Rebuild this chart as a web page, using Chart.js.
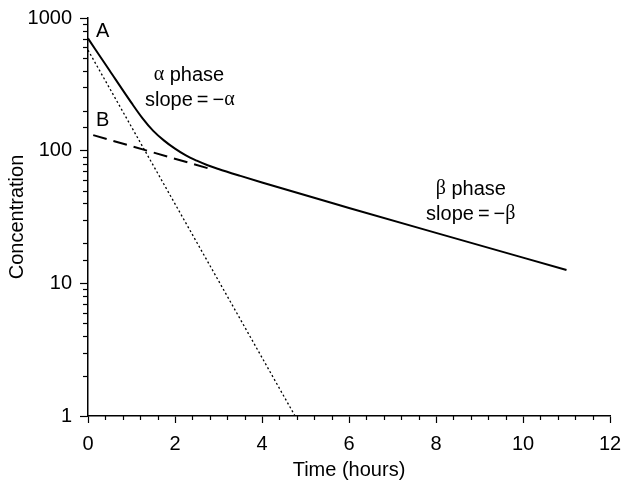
<!DOCTYPE html>
<html>
<head>
<meta charset="utf-8">
<script src="https://cdn.jsdelivr.net/npm/chart.js@4/dist/chart.umd.min.js"></script>
<style>
    body { margin: 0; background: #fff; }
    #wrap { width: 622px; height: 483px; }
</style>
</head>
<body>
<div id="wrap"><canvas id="two-compartment" width="622" height="483"></canvas></div>
<script>
// values
const curveTime = [0, 0.5, 1.0, 1.25, 1.5, 1.75, 2.0, 2.25, 2.5, 2.75, 3.0, 3.5, 4, 6, 8, 11];
const curveConc = [702, 400, 229, 176, 141, 119, 103.5, 92, 84, 77.6, 72.8, 64.6, 57.5, 37, 24, 12.6];

const betaLineTime = [0.12, 2.8];
const betaLineConc = [131, 73];

const alphaLineTime = [0, 4.76];
const alphaLineConc = [573, 1];

const yTickLabels = [1, 10, 100, 1000];
const xTickLabels = [0, 2, 4, 6, 8, 10, 12];

const SANS = "'Liberation Sans', Arial, sans-serif";
const SERIF = "'Liberation Serif', 'Times New Roman', serif";

// text annotations: [runs, time, concentration]
const notes = [
    [[['A', SANS]], 0.34, 797],
    [[['B', SANS]], 0.34, 170],
    [[['\u03B1', SERIF], [' phase', SANS]], 2.32, 371],
    [[['slope\u2009=\u2009\u2212', SANS], ['\u03B1', SERIF]], 2.34, 241],
    [[['\u03B2', SERIF], [' phase', SANS]], 8.8, 51.4],
    [[['slope\u2009=\u2009\u2212', SANS], ['\u03B2', SERIF]], 8.8, 33.3]
];

function toPoints(xs, ys) {
    return xs.map((x, i) => ({x: x, y: ys[i]}));
}

function isDecade(v) {
    return yTickLabels.indexOf(v) !== -1;
}

const extraMarks = {
    id: 'extraMarks',
    afterDraw(chart) {
        const ctx = chart.ctx;
        const xs = chart.scales.x;
        const ys = chart.scales.y;
        ctx.save();
        ctx.strokeStyle = '#000';
        ctx.lineWidth = 1.2;

        // minor ticks on the log axis
        ys.ticks.forEach(t => {
            if (isDecade(t.value)) return;
            const py = Math.round(ys.getPixelForValue(t.value)) + 0.5;
            ctx.beginPath();
            ctx.moveTo(xs.left - 5, py);
            ctx.lineTo(xs.left, py);
            ctx.stroke();
        });

        // minor ticks on the time axis
        for (let i = 0; i <= 30; i++) {
            if (i % 5 === 0) continue;
            const px = Math.round(xs.getPixelForValue(i * 0.4)) + 0.5;
            ctx.beginPath();
            ctx.moveTo(px, ys.bottom);
            ctx.lineTo(px, ys.bottom + 4);
            ctx.stroke();
        }

        // labels
        ctx.fillStyle = '#000';
        ctx.textBaseline = 'middle';
        ctx.textAlign = 'left';
        notes.forEach(n => {
            const runs = n[0];
            let total = 0;
            runs.forEach(r => {
                ctx.font = '20px ' + r[1];
                total += ctx.measureText(r[0]).width;
            });
            let px = xs.getPixelForValue(n[1]) - total / 2;
            const py = ys.getPixelForValue(n[2]);
            runs.forEach(r => {
                ctx.font = '20px ' + r[1];
                ctx.fillText(r[0], px, py);
                px += ctx.measureText(r[0]).width;
            });
        });
        ctx.restore();
    }
};

const ctx = document.getElementById('two-compartment');

Chart.defaults.font.family = SANS;
Chart.defaults.color = '#000';

new Chart(ctx, {
    type: 'line',
    data: {
        datasets: [
            {
                data: toPoints(curveTime, curveConc),
                borderColor: '#000',
                borderWidth: 2,
                pointRadius: 0,
                cubicInterpolationMode: 'monotone'
            },
            {
                data: toPoints(betaLineTime, betaLineConc),
                borderColor: '#000',
                borderWidth: 2,
                borderDash: [14, 7],
                pointRadius: 0
            },
            {
                data: toPoints(alphaLineTime, alphaLineConc),
                borderColor: '#000',
                borderWidth: 1.3,
                borderDash: [2, 2.5],
                pointRadius: 0
            }
        ]
    },
    options: {
        responsive: false,
        animation: false,
        layout: {
            padding: {top: 18, right: 12, left: 0, bottom: 0}
        },
        scales: {
            x: {
                type: 'linear',
                min: 0,
                max: 12,
                afterFit: s => { s.height = 67; s.paddingLeft = 0; s.paddingRight = 0; },
                afterBuildTicks: s => { s.ticks = xTickLabels.map(v => ({value: v})); },
                grid: {drawOnChartArea: false, tickLength: 7, tickColor: '#000', tickWidth: 1.2},
                border: {color: '#000', width: 1.5},
                ticks: {font: {size: 20}, padding: 9, maxRotation: 0, autoSkip: false},
                title: {display: true, text: 'Time (hours)', font: {size: 20}, padding: {top: 0, bottom: 1}}
            },
            y: {
                type: 'logarithmic',
                min: 1,
                max: 1000,
                afterFit: s => { s.width = 88; s.paddingTop = 0; s.paddingBottom = 0; },
                grid: {
                    drawOnChartArea: false,
                    tickLength: 8,
                    tickWidth: 1.2,
                    tickColor: c => (c.tick && isDecade(c.tick.value)) ? '#000' : 'rgba(0,0,0,0)'
                },
                border: {color: '#000', width: 1.5},
                ticks: {
                    font: {size: 20},
                    padding: 8,
                    autoSkip: false,
                    callback: v => isDecade(v) ? String(v) : ''
                },
                title: {display: true, text: 'Concentration', font: {size: 20}, padding: {top: 5, bottom: 0}}
            }
        },
        plugins: {
            legend: {display: false},
            tooltip: {enabled: false}
        }
    },
    plugins: [extraMarks]
});
</script>
</body>
</html>
